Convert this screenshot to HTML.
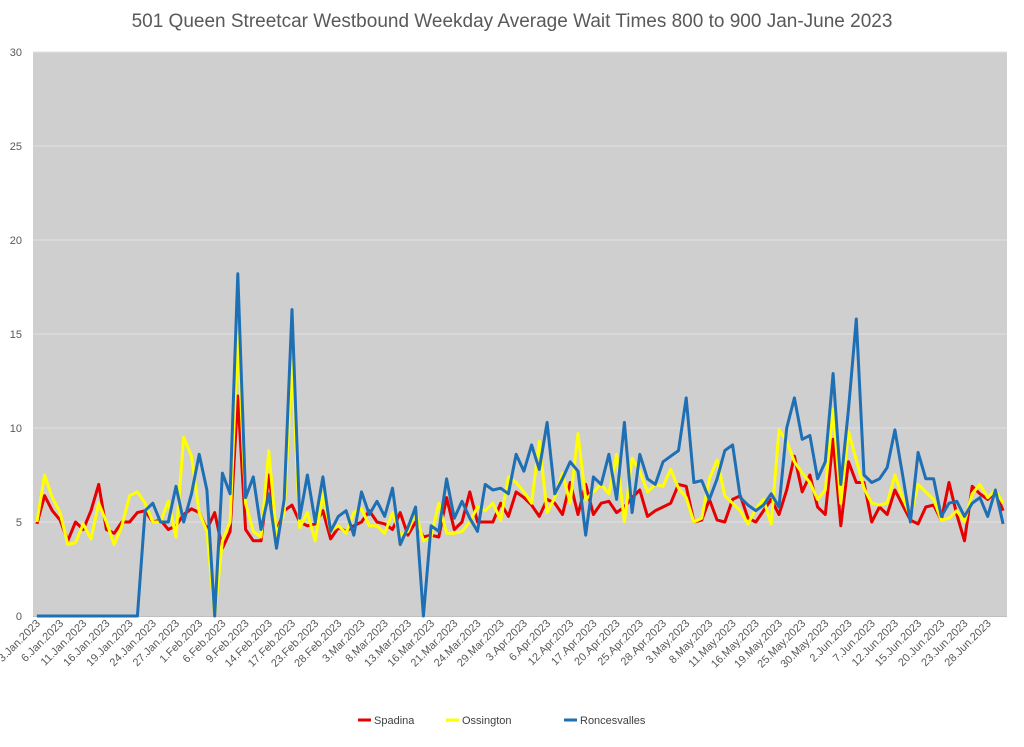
<!DOCTYPE html>
<html><head><meta charset="utf-8">
<style>
html,body{margin:0;padding:0;background:#fff;}
body{width:1024px;height:742px;overflow:hidden;font-family:"Liberation Sans",sans-serif;}
text{font-family:"Liberation Sans",sans-serif;}
</style></head>
<body>
<svg id="chart" width="1024" height="742" viewBox="0 0 1024 742" xmlns="http://www.w3.org/2000/svg">
<text x="512" y="27" text-anchor="middle" font-size="19" fill="#595959">501 Queen Streetcar Westbound Weekday Average Wait Times 800 to 900 Jan-June 2023</text>
<rect x="33" y="52" width="974" height="564" fill="#d0cfd0"/>
<g id="grid"></g>
<g id="yaxis"></g>
<g id="xaxis"></g>
<g id="series"></g>
<g>
 <g><line x1="358" y1="720" x2="371" y2="720" stroke="#e60000" stroke-width="3"/><text x="374" y="724" font-size="11" fill="#404040">Spadina</text></g>
 <g><line x1="446" y1="720" x2="459" y2="720" stroke="#ffff00" stroke-width="3"/><text x="462" y="724" font-size="11" fill="#404040">Ossington</text></g>
 <g><line x1="564" y1="720" x2="577" y2="720" stroke="#1f6fb4" stroke-width="3"/><text x="580" y="724" font-size="11" fill="#404040">Roncesvalles</text></g>
</g>
</svg>
<script>
const yTicks=[0,5,10,15,20,25,30];
const xLabels=["3.Jan.2023","6.Jan.2023","11.Jan.2023","16.Jan.2023","19.Jan.2023","24.Jan.2023","27.Jan.2023","1.Feb.2023","6.Feb.2023","9.Feb.2023","14.Feb.2023","17.Feb.2023","23.Feb.2023","28.Feb.2023","3.Mar.2023","8.Mar.2023","13.Mar.2023","16.Mar.2023","21.Mar.2023","24.Mar.2023","29.Mar.2023","3.Apr.2023","6.Apr.2023","12.Apr.2023","17.Apr.2023","20.Apr.2023","25.Apr.2023","28.Apr.2023","3.May.2023","8.May.2023","11.May.2023","16.May.2023","19.May.2023","25.May.2023","30.May.2023","2.Jun.2023","7.Jun.2023","12.Jun.2023","15.Jun.2023","20.Jun.2023","23.Jun.2023","28.Jun.2023"];
const spadina=[4.9,6.4,5.6,5.1,4.0,5.0,4.6,5.6,7.0,4.6,4.4,5.0,5.0,5.5,5.6,5.0,5.1,4.6,4.8,5.4,5.7,5.5,4.6,5.5,3.6,4.5,11.7,4.6,4.0,4.0,7.5,4.5,5.6,5.9,5.0,4.8,4.9,5.6,4.1,4.7,4.5,4.8,5.0,5.6,5.0,4.9,4.6,5.5,4.3,5.0,4.2,4.3,4.2,6.3,4.6,5.0,6.6,5.0,5.0,5.0,6.0,5.3,6.6,6.3,5.9,5.3,6.2,6.0,5.4,7.1,5.4,7.0,5.4,6.0,6.1,5.5,5.8,6.3,6.7,5.3,5.6,5.8,6.0,7.0,6.9,5.0,5.1,6.2,5.1,5.0,6.2,6.4,5.2,5.0,5.6,6.2,5.4,6.7,8.5,6.6,7.5,5.8,5.4,9.4,4.8,8.2,7.1,7.1,5.0,5.8,5.4,6.7,5.9,5.1,4.9,5.8,5.9,5.1,7.1,5.4,4.0,6.9,6.5,6.2,6.6,5.6];
const ossington=[5.0,7.5,6.3,5.5,3.8,3.9,4.9,4.1,6.0,5.0,3.8,4.8,6.4,6.6,6.0,5.0,5.0,6.1,4.2,9.5,8.5,5.5,4.5,0,4.0,5.0,15.0,6.0,4.5,4.2,8.8,4.3,5.5,13.5,4.7,5.5,4.0,6.5,4.5,4.8,4.4,5.5,5.7,4.8,4.8,4.4,5.5,4.3,4.5,5.5,4.0,4.2,6.0,4.4,4.4,4.5,5.0,5.8,5.6,6.0,5.1,7.4,7.1,6.6,6.0,9.3,5.5,6.3,7.6,6.0,9.7,6.2,6.6,7.0,6.5,8.6,5.0,8.4,7.7,6.6,7.0,6.9,7.8,6.8,6.3,5.0,5.2,7.3,8.3,6.4,6.0,5.6,4.9,5.7,6.2,4.9,9.9,9.3,8.2,7.6,7.1,6.2,6.7,11.0,6.0,9.8,8.3,6.8,6.0,5.9,6.0,7.5,6.3,5.3,7.0,6.6,6.2,5.1,5.2,5.6,5.0,6.5,7.0,6.3,6.7,6.0];
const roncesvalles=[0,0,0,0,0,0,0,0,0,0,0,0,0,0,5.6,6.0,5.0,5.0,6.9,5.0,6.5,8.6,6.7,0,7.6,6.5,18.2,6.3,7.4,4.6,6.5,3.6,6.2,16.3,5.2,7.5,5.0,7.4,4.5,5.3,5.6,4.3,6.6,5.4,6.1,5.3,6.8,3.8,4.7,5.8,0,4.8,4.5,7.3,5.2,6.1,5.2,4.5,7.0,6.7,6.8,6.5,8.6,7.7,9.1,7.8,10.3,6.5,7.3,8.2,7.7,4.3,7.4,7.0,8.6,6.2,10.3,5.5,8.6,7.3,7.0,8.2,8.5,8.8,11.6,7.1,7.2,6.2,7.3,8.8,9.1,6.3,5.9,5.6,5.9,6.5,5.8,10.0,11.6,9.4,9.6,7.3,8.2,12.9,7.0,11.0,15.8,7.5,7.1,7.3,7.9,9.9,7.5,5.0,8.7,7.3,7.3,5.3,6.0,6.1,5.3,6.0,6.3,5.3,6.7,4.9];

const NS="http://www.w3.org/2000/svg";
const X0=33,X1=1007,Y0=616,Y1=52,YMAX=30;
const N=spadina.length;
const step=(X1-X0)/N;
function xs(i){return X0+step*(i+0.5);}
function ys(v){return Y0-(v/YMAX)*(Y0-Y1);}
const grid=document.getElementById('grid'),yax=document.getElementById('yaxis'),xax=document.getElementById('xaxis'),ser=document.getElementById('series');
yTicks.forEach(t=>{
  if(t>0){
    const l=document.createElementNS(NS,'line');
    
    
    l.setAttribute('x1',X0);l.setAttribute('x2',X1);l.setAttribute('y1',ys(t));l.setAttribute('y2',ys(t));
    l.setAttribute('stroke','#e2e2e2');l.setAttribute('stroke-width','1');
    grid.appendChild(l);
  }
  const tx=document.createElementNS(NS,'text');
  
  
  tx.setAttribute('x',22);tx.setAttribute('y',ys(t)+4);tx.setAttribute('text-anchor','end');
  tx.setAttribute('font-size','11');tx.setAttribute('fill','#595959');tx.textContent=t;
  yax.appendChild(tx);
});
const base=document.createElementNS(NS,'line');


base.setAttribute('x1',X0);base.setAttribute('x2',X1);base.setAttribute('y1',Y0+0.5);base.setAttribute('y2',Y0+0.5);
base.setAttribute('stroke','#bfbfbf');
xax.appendChild(base);
xLabels.forEach((lab,k)=>{
  const x=xs(k*3);
  const tx=document.createElementNS(NS,'text');
  
  
  tx.setAttribute('transform','translate('+(x+4)+','+(Y0+8)+') rotate(-45)');
  tx.setAttribute('text-anchor','end');tx.setAttribute('font-size','11');tx.setAttribute('fill','#595959');
  tx.textContent=lab;
  xax.appendChild(tx);
});
function drawLine(arr,color,name){
  const p=document.createElementNS(NS,'polyline');
  
  
  p.setAttribute('points',arr.map((v,i)=>xs(i).toFixed(1)+','+ys(v).toFixed(1)).join(' '));
  p.setAttribute('fill','none');p.setAttribute('stroke',color);p.setAttribute('stroke-width','3');
  p.setAttribute('stroke-linejoin','round');
  ser.appendChild(p);
}
drawLine(spadina,'#e60000','spadina-line');
drawLine(ossington,'#ffff00','ossington-line');
drawLine(roncesvalles,'#1f6fb4','roncesvalles-line');
</script>
</body></html>
